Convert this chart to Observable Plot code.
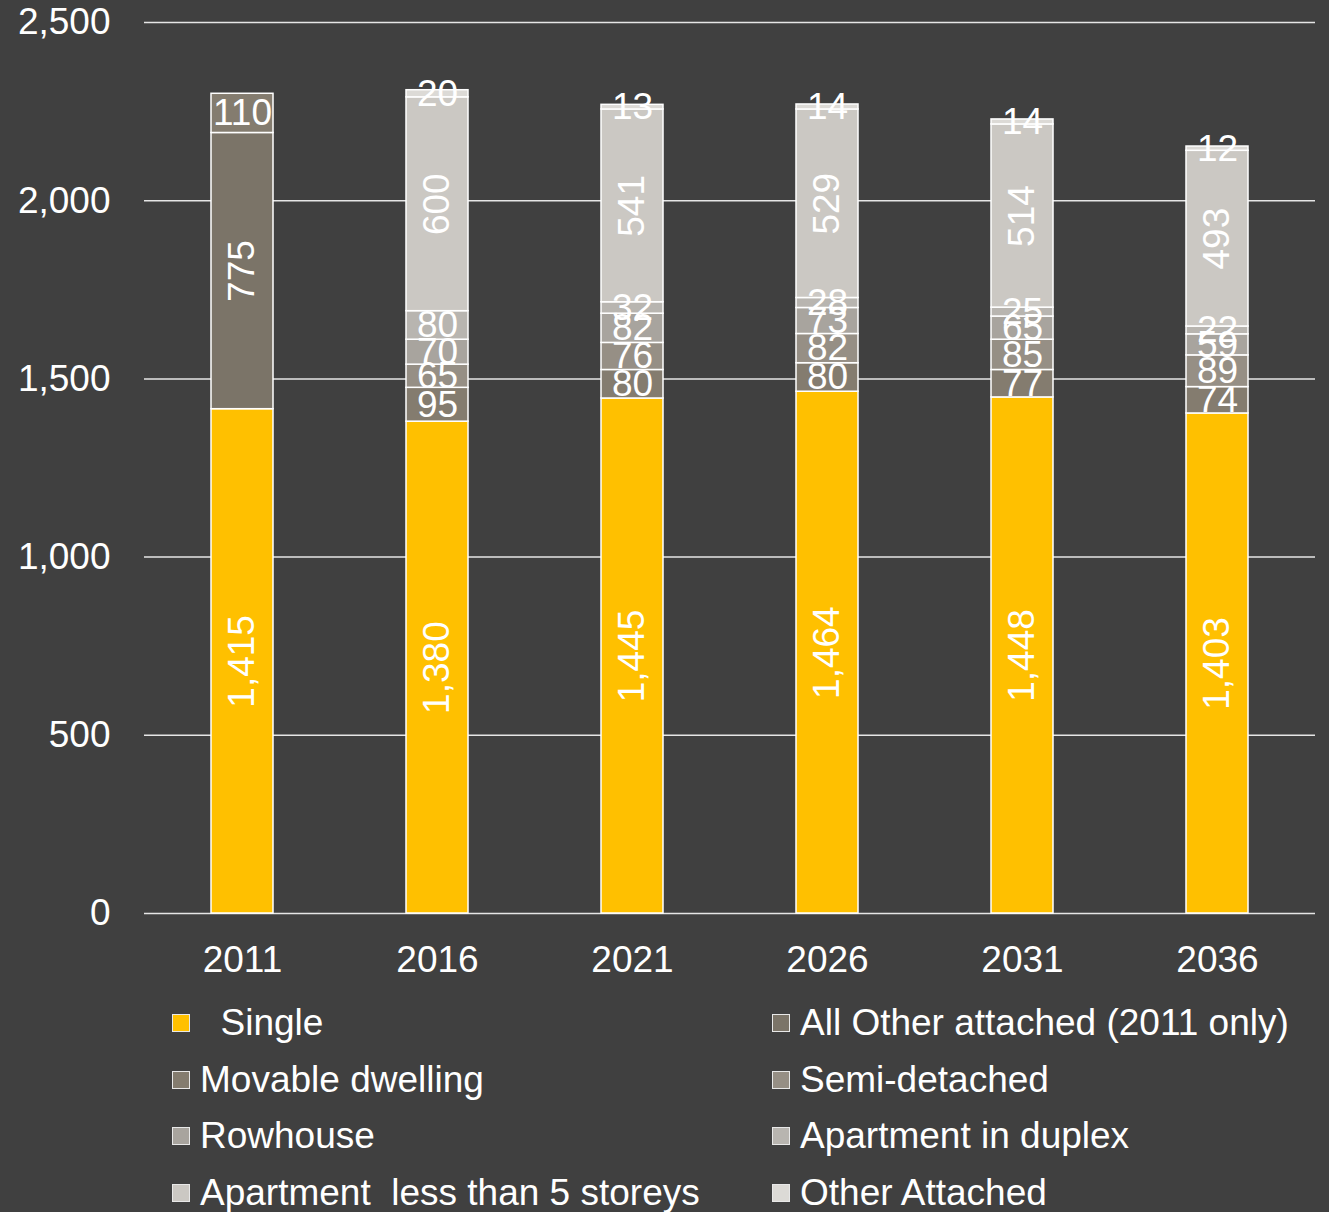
<!DOCTYPE html>
<html>
<head>
<meta charset="utf-8">
<script src="https://cdn.jsdelivr.net/npm/d3@7"></script>
<script src="https://cdn.jsdelivr.net/npm/@observablehq/plot@0.6"></script>
<style>
  html, body { margin: 0; padding: 0; background: #404040; }
  body { width: 1329px; height: 1212px; overflow: hidden; font-family: "Liberation Sans", Arial, sans-serif; }
  #legend { position: relative; width: 1329px; height: 222px; color: #ffffff; font-size: 37px; }
  .item { position: absolute; display: flex; align-items: center; height: 40px; white-space: pre; }
  .sw { width: 18px; height: 18px; border: 1.5px solid #e8e8e8; box-sizing: border-box; margin-right: 10px; }
</style>
</head>
<body>
<div id="chart"></div>
<div id="legend"></div>
<script>
const years = ["2011", "2016", "2021", "2026", "2031", "2036"];
const types = ["Single", "All Other attached (2011 only)", "Movable dwelling", "Semi-detached", "Rowhouse", "Apartment in duplex", "Apartment  less than 5 storeys", "Other Attached"];
const colors = ["#ffc000", "#7b7468", "#847c6f", "#968f85", "#a8a49e", "#b8b5b0", "#cbc8c3", "#dcdad6"];
const single = [1415, 1380, 1445, 1464, 1448, 1403];
const allOtherAttached = [775, null, null, null, null, null];
const movable = [110, 95, 80, 80, 77, 74];
const semiDetached = [null, 65, 76, 82, 85, 89];
const rowhouse = [null, 70, 82, 73, 65, 59];
const duplex = [null, 80, 32, 28, 25, 22];
const apartment = [null, 600, 541, 529, 514, 493];
const otherAttached = [null, 20, 13, 14, 14, 12];
const rotatedTypes = ["Single", "All Other attached (2011 only)", "Apartment  less than 5 storeys"];
const yTicks = [0, 500, 1000, 1500, 2000, 2500];

const series = [single, allOtherAttached, movable, semiDetached, rowhouse, duplex, apartment, otherAttached];
const data = [];
years.forEach((year, i) => {
  series.forEach((vals, s) => {
    if (vals[i] != null) data.push({year, type: types[s], value: vals[i]});
  });
});
const fmt = d3.format(",");

const chart = Plot.plot({
  width: 1329,
  height: 990,
  marginTop: 22,
  marginBottom: 77,
  marginLeft: 144,
  marginRight: 14,
  style: {background: "#404040", color: "#ffffff", fontFamily: "'Liberation Sans', Arial, sans-serif"},
  x: {domain: years, paddingInner: 0.68, paddingOuter: 0.34, label: null},
  y: {domain: [0, 2500], label: null},
  color: {domain: types, range: colors},
  marks: [
    Plot.ruleY(yTicks, {stroke: "#e6e6e6", strokeWidth: 1.5}),
    Plot.barY(data, Plot.stackY({x: "year", y: "value", z: "type", order: types, fill: "type", stroke: "#ffffff", strokeWidth: 1.5})),
    Plot.text(data, Plot.stackY({
      x: "year", y: "value", z: "type", order: types,
      text: d => fmt(d.value),
      rotate: d => rotatedTypes.includes(d.type) ? -90 : 0,
      fill: "#ffffff", fontSize: 37
    })),
    Plot.axisY({ticks: yTicks, tickFormat: d => fmt(d), tickSize: 0, tickPadding: 34, fontSize: 37, label: null}),
    Plot.axisX({tickSize: 0, tickPadding: 32, fontSize: 37, label: null})
  ]
});
document.getElementById("chart").appendChild(chart);

const legend = document.getElementById("legend");
const legendLabels = ["  Single", "All Other attached (2011 only)", "Movable dwelling", "Semi-detached", "Rowhouse", "Apartment in duplex", "Apartment  less than 5 storeys", "Other Attached"];
legendLabels.forEach((label, i) => {
  const col = i % 2, row = Math.floor(i / 2);
  const div = document.createElement("div");
  div.className = "item";
  div.style.left = (col === 0 ? 172 : 772) + "px";
  div.style.top = (13 + row * 56.5) + "px";
  const sw = document.createElement("span");
  sw.className = "sw";
  sw.style.background = colors[i];
  const tx = document.createElement("span");
  tx.textContent = label;
  div.appendChild(sw);
  div.appendChild(tx);
  legend.appendChild(div);
});
</script>
</body>
</html>
